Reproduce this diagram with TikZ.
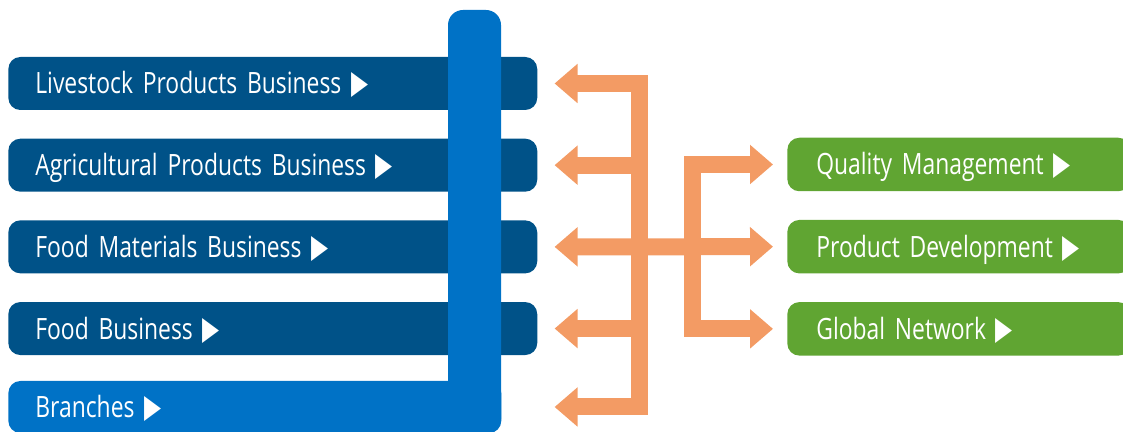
\documentclass[tikz,border=0pt]{standalone}
\usepackage{fontspec}
\setmainfont{Open Sans}[FakeStretch=0.78]
\newfontfamily\markfont{DejaVu Sans}
\usepackage{tikz}
\usetikzlibrary{arrows.meta, positioning}

\definecolor{bizblue}{RGB}{0,82,136}
\definecolor{branchblue}{RGB}{0,114,198}
\definecolor{linkorange}{RGB}{243,155,100}
\definecolor{supgreen}{RGB}{96,165,50}

\newcommand{\more}{\ \scalebox{0.97}[1.43]{\markfont\fontsize{13}{13}\selectfont ▶}}

\tikzset{
  boxtext/.style={text=white, inner ysep=0pt, align=left, text height=0.52cm, text depth=0.1cm,
    font=\fontsize{16.7}{20}\selectfont},
  bizbox/.style={boxtext, fill=bizblue, rounded corners=0.24cm, minimum height=1.06cm,
    text width=9.5cm, inner xsep=0.54cm},
  branchbox/.style={boxtext, fill=branchblue, rounded corners=0.24cm, minimum height=1.04cm,
    text width=8.78cm, inner xsep=0.54cm},
  supbox/.style={boxtext, fill=supgreen, rounded corners=0.24cm, minimum height=1.07cm,
    text width=5.7cm, inner xsep=0.58cm},
  link/.style={draw=linkorange, line width=0.34cm},
  linktip/.tip={Triangle[width=0.76cm, length=0.46cm]}
}

\begin{document}
\begin{tikzpicture}[x=0.02cm, y=0.02cm]
  \useasboundingbox (0,0) rectangle (1123,432);
  \node[bizbox, anchor=west] (livestock) at (8,348.5) {Livestock Products Business\more};
  \node[bizbox, below=0.56cm of livestock] (agri) {Agricultural Products Business\more};
  \node[bizbox, below=0.56cm of agri] (materials) {Food Materials Business\more};
  \node[bizbox, below=0.56cm of materials] (food) {Food Business\more};
  \fill[branchblue, rounded corners=0.3cm] (448,-2) rectangle (501,422);
  \node[branchbox, anchor=west] (branches) at (8,25) {Branches\more};

  \node[supbox, anchor=west] (quality) at (787,267.5) {Quality Management\more};
  \node[supbox, below=0.56cm of quality] (develop) {Product Development\more};
  \node[supbox, below=0.56cm of develop] (network) {Global Network\more};

  \coordinate (hubleft) at (639.5,0);
  \coordinate (hubright) at (692.5,0);
  \coordinate (tipls) at ([xshift=0.34cm]livestock.east);
  \coordinate (tipag) at ([xshift=0.34cm]agri.east);
  \coordinate (tipma) at ([xshift=0.34cm]materials.east);
  \coordinate (tipfo) at ([xshift=0.34cm]food.east);
  \coordinate (tipbr) at (tipls |- branches.east);
  \coordinate (tipqu) at ([xshift=-0.28cm]quality.west);
  \coordinate (tipde) at ([xshift=-0.28cm]develop.west);
  \coordinate (tipne) at ([xshift=-0.28cm]network.west);

  \draw[link, linktip-linktip] (tipls) -- (hubleft |- tipls) -- (hubleft |- tipbr) -- (tipbr);
  \draw[link, -linktip] (hubleft |- tipag) -- (tipag);
  \draw[link, -linktip] (hubleft |- tipfo) -- (tipfo);
  \draw[link, linktip-linktip] (tipma) -- (tipde);
  \draw[link, linktip-linktip] (tipqu) -- (hubright |- tipqu) -- (hubright |- tipne) -- (tipne);
\end{tikzpicture}
\end{document}
